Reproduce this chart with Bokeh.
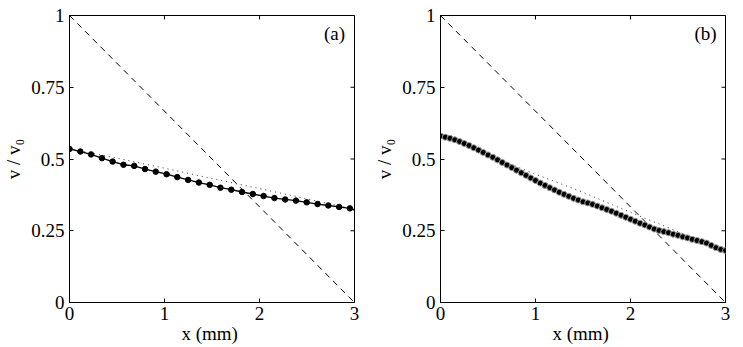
import math
from bokeh.plotting import figure
from bokeh.layouts import row
from bokeh.models import FixedTicker, Range1d
from bokeh.core.properties import value
from bokeh.embed import file_html
from bokeh.resources import INLINE

# ---- data panel (a)
xa = [0.0, 0.114, 0.227, 0.341, 0.454, 0.568, 0.681, 0.795, 0.908, 1.022, 1.135, 1.249, 1.362,
      1.476, 1.589, 1.703, 1.816, 1.930, 2.043, 2.157, 2.270, 2.384, 2.497, 2.611, 2.724, 2.838, 2.951]
ya = [0.535, 0.526, 0.516, 0.503, 0.491, 0.480, 0.476, 0.465, 0.456, 0.447, 0.437, 0.427, 0.418,
      0.410, 0.400, 0.393, 0.385, 0.378, 0.371, 0.364, 0.359, 0.355, 0.349, 0.343, 0.338, 0.333, 0.328]
fit_xa = [0.0, 0.5, 1.0, 1.5, 2.0, 2.5, 3.0]
fit_ya = [0.535, 0.503, 0.468, 0.432, 0.397, 0.361, 0.325]
line_xa = xa + [3.0]
line_ya = ya + [0.322]

# ---- data panel (b)
xb = [round(0.05 * i, 2) for i in range(61)]
yb = [0.580, 0.576, 0.572, 0.567, 0.561, 0.554, 0.547, 0.539, 0.531, 0.523,
      0.514, 0.506, 0.497, 0.488, 0.479, 0.470, 0.461, 0.452, 0.443, 0.434,
      0.425, 0.416, 0.408, 0.400, 0.392, 0.384, 0.377, 0.370, 0.363, 0.357,
      0.351, 0.347, 0.342, 0.336, 0.330, 0.324, 0.318, 0.311, 0.304, 0.297,
      0.290, 0.283, 0.276, 0.270, 0.263, 0.256, 0.251, 0.247, 0.243, 0.238,
      0.234, 0.229, 0.225, 0.220, 0.216, 0.212, 0.207, 0.199, 0.191, 0.185, 0.181]
fit_xb = [0.0, 0.5, 1.0, 1.5, 2.0, 2.5, 3.0]
fit_yb = [0.580, 0.513, 0.447, 0.384, 0.314, 0.247, 0.181]

diag_x = [0.0, 3.0]
diag_y = [1.0, 0.0]

x_ticks = [0, 1, 2, 3]
y_ticks = [0, 0.25, 0.5, 0.75, 1]
y_tick_labels = {0: "0", 0.25: "0.25", 0.5: "0.5", 0.75: "0.75", 1: "1"}

FONT = "Liberation Serif"


def make_panel(border_right, label, xs, ys, lx, ly, fx, fy, dense):
    p = figure(frame_width=285, frame_height=287, output_backend="svg", toolbar_location=None,
               x_range=Range1d(0, 3), y_range=Range1d(0, 1),
               min_border_left=67, min_border_right=border_right,
               min_border_top=15, min_border_bottom=44)
    p.grid.visible = False
    p.background_fill_color = "white"
    p.border_fill_color = "white"
    p.outline_line_color = "black"
    p.outline_line_width = 1

    p.axis.major_tick_in = 4
    p.axis.major_tick_out = 0
    p.axis.minor_tick_line_color = None
    p.axis.axis_line_color = "black"
    p.axis.major_tick_line_color = "black"
    p.axis.major_label_text_font = FONT
    p.axis.major_label_text_font_size = "19px"
    p.axis.major_label_text_color = "black"
    p.axis.axis_label_text_font = FONT
    p.axis.axis_label_text_font_size = "19px"
    p.axis.axis_label_text_font_style = "normal"
    p.axis.axis_label_text_color = "black"
    p.xaxis.ticker = FixedTicker(ticks=x_ticks)
    p.yaxis.ticker = FixedTicker(ticks=y_ticks)
    p.yaxis.major_label_overrides = y_tick_labels
    p.xaxis.major_label_standoff = 4
    p.yaxis.major_label_standoff = 5
    p.xaxis.axis_label = "x  (mm)"
    p.yaxis.axis_label = "v / v\u2080"
    p.xaxis.axis_label_standoff = 0
    p.yaxis.axis_label_standoff = 4

    # inward ticks on the top and right edges of the box
    p.ray(x=x_ticks, y=[1] * len(x_ticks), length=4, length_units="screen",
          angle=-math.pi / 2, line_color="black", line_width=1)
    p.ray(x=[3] * len(y_ticks), y=y_ticks, length=4, length_units="screen",
          angle=math.pi, line_color="black", line_width=1)

    p.line(diag_x, diag_y, line_color="black", line_width=1, line_dash="6 5")
    p.line(fx, fy, line_color="#333333", line_width=1, line_dash="1 4")
    p.line(lx, ly, line_color="black", line_width=1.3)
    if dense:
        p.scatter(xs, ys, size=6, fill_color="black", line_color="#999999", line_width=1)
    else:
        p.scatter(xs, ys, size=5.5, fill_color="black", line_color="black")
    p.text(x=[2.79], y=[0.937], text=[label], text_font=value(FONT), text_font_size="19px",
           text_align="center", text_baseline="middle", text_color="black")
    return p


pa = make_panel(17, "(a)", xa, ya, line_xa, line_ya, fit_xa, fit_ya, False)
pb = make_panel(17, "(b)", xb, yb, xb, yb, fit_xb, fit_yb, True)

layout = row(pa, pb)
open("out.html", "w").write(file_html(layout, INLINE))
